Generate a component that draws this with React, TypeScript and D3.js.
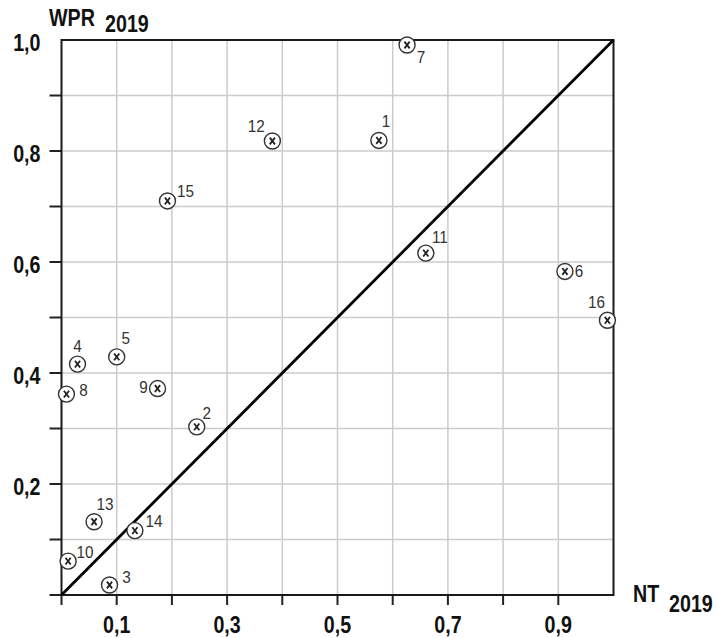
import * as d3 from "d3";

const ids = ["1", "2", "3", "4", "5", "6", "7", "8", "9", "10", "11", "12", "13", "14", "15", "16"];
const nt2019 = [0.575, 0.245, 0.087, 0.029, 0.1, 0.912, 0.626, 0.009, 0.174, 0.012, 0.66, 0.382, 0.059, 0.133, 0.192, 0.989];
const wpr2019 = [0.819, 0.303, 0.018, 0.416, 0.429, 0.583, 0.991, 0.362, 0.372, 0.061, 0.616, 0.818, 0.132, 0.116, 0.71, 0.495];

const xTickLabels = ["0,1", "0,3", "0,5", "0,7", "0,9"];
const yTickLabels = ["0,2", "0,4", "0,6", "0,8", "1,0"];

// where each number sits relative to its marker
const labelOffset: Record<string, [number, number]> = {
  "1": [7, -19], "2": [10, -14], "3": [17, -8], "4": [0, -18],
  "5": [9, -19], "6": [14, 0], "7": [14, 12], "8": [17, -4],
  "9": [-14, -2], "10": [17, -9], "11": [14, -16], "12": [-16, -15],
  "13": [11, -18], "14": [19, -10], "15": [18, -10], "16": [-11, -18],
};

const W = 717, H = 638;
const left = 61.5, right = 613.5, top = 40, bottom = 595;

// no narrow font installed, so squeeze the sans horizontally
function Narrow({ x, y, anchor = "start", size = 24, bold = true, fill = "#111", sx = 0.82, children }: any) {
  return (
    <g transform={`translate(${x},${y}) scale(${sx},1)`}>
      <text
        textAnchor={anchor}
        fontFamily="'Liberation Sans', Arial, sans-serif"
        fontWeight={bold ? "bold" : "normal"}
        fontSize={size}
        fill={fill}
      >
        {children}
      </text>
    </g>
  );
}

export default function App() {
  const x = d3.scaleLinear().domain([0, 1]).range([left, right]);
  const y = d3.scaleLinear().domain([0, 1]).range([bottom, top]);
  const grid = d3.range(1, 10).map((i) => i / 10);
  const ticks = d3.range(0, 10).map((i) => i / 10);
  const pts = ids.map((id, i) => ({ id, nt: nt2019[i], wpr: wpr2019[i] }));
  const diag = d3.line<[number, number]>().x((d) => x(d[0])).y((d) => y(d[1]));
  const num = (t: string) => parseFloat(t.replace(",", "."));

  return (
    <svg width={W} height={H} style={{ position: "absolute", left: 0, top: 0, background: "#fff" }}>
      <g stroke="#cbcbcb" strokeWidth={1.5}>
        {grid.map((v) => (
          <line key={"gx" + v} x1={x(v)} x2={x(v)} y1={top} y2={bottom} />
        ))}
        {grid.map((v) => (
          <line key={"gy" + v} x1={left} x2={right} y1={y(v)} y2={y(v)} />
        ))}
      </g>
      <g stroke="#222" strokeWidth={2}>
        {ticks.map((v) => (
          <line key={"tx" + v} x1={x(v)} x2={x(v)} y1={bottom} y2={bottom + 10} />
        ))}
        {ticks.map((v) => (
          <line key={"ty" + v} x1={left - 12} x2={left} y1={y(v)} y2={y(v)} />
        ))}
      </g>
      <rect x={left} y={top} width={right - left} height={bottom - top} fill="none" stroke="#1a1a1a" strokeWidth={2} />
      <path d={diag([[0, 0], [1, 1]]) || ""} stroke="#000" strokeWidth={2.8} fill="none" />

      {xTickLabels.map((t) => (
        <Narrow key={t} x={x(num(t))} y={bottom + 38} anchor="middle">{t}</Narrow>
      ))}
      {yTickLabels.map((t) => (
        <Narrow key={t} x={left - 21} y={y(num(t)) + 11} anchor="end">{t}</Narrow>
      ))}
      <Narrow x={49} y={26}>WPR</Narrow>
      <Narrow x={105} y={32}>2019</Narrow>
      <Narrow x={633} y={602}>NT</Narrow>
      <Narrow x={669} y={612}>2019</Narrow>

      <g>
        {pts.map((p) => {
          const cx = x(p.nt), cy = y(p.wpr);
          const [dx, dy] = labelOffset[p.id];
          return (
            <g key={p.id}>
              <circle cx={cx} cy={cy} r={8} fill="#fff" stroke="#333" strokeWidth={1.4} />
              <path
                d={`M${cx - 2.6},${cy - 3.4}L${cx + 2.6},${cy + 3.4}M${cx + 2.6},${cy - 3.4}L${cx - 2.6},${cy + 3.4}`}
                stroke="#222"
                strokeWidth={1.8}
              />
              <Narrow x={cx + dx} y={cy + dy + 6} anchor="middle" size={17} bold={false} fill="#333" sx={0.9}>
                {p.id}
              </Narrow>
            </g>
          );
        })}
      </g>
    </svg>
  );
}
